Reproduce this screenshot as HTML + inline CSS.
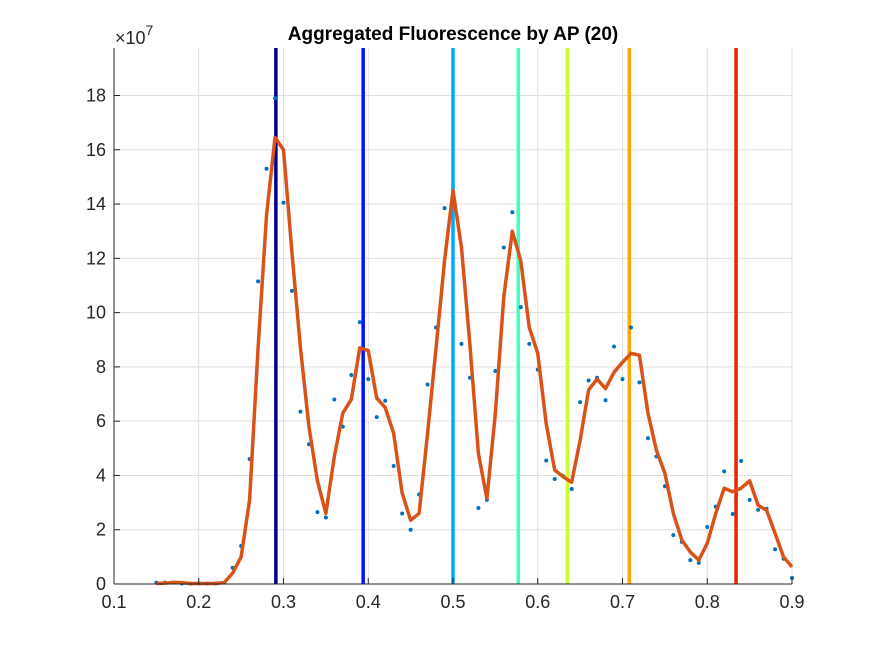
<!DOCTYPE html>
<html><head><meta charset="utf-8"><style>
body{margin:0;background:#fff;}
svg{display:block;font-family:"Liberation Sans",Arial,sans-serif;}
</style></head><body>
<svg id="chart" width="875" height="656">
<rect x="0" y="0" width="875" height="656" fill="#fff"/>
<g id="grid"></g>
<g id="vlines"></g>
<g id="dots"></g>
<g id="curve"></g>
<g id="axes"></g>
<text x="453" y="40" text-anchor="middle" font-size="19" font-weight="bold" fill="#000">Aggregated Fluorescence by AP (20)</text>
<text x="115" y="44" font-size="18" fill="#262626">×10<tspan dy="-9" font-size="14">7</tspan></text>
</svg>
<script>
const xTicks=[0.1,0.2,0.3,0.4,0.5,0.6,0.7,0.8,0.9];
const xTickLabels=["0.1","0.2","0.3","0.4","0.5","0.6","0.7","0.8","0.9"];
const yTicks=[0,2,4,6,8,10,12,14,16,18];
const yTickLabels=["0","2","4","6","8","10","12","14","16","18"];
const pointX=[0.15,0.16,0.17,0.18,0.19,0.20,0.21,0.22,0.23,0.24,0.25,0.26,0.27,0.28,0.29,0.30,0.31,0.32,0.33,0.34,0.35,0.36,0.37,0.38,0.39,0.40,0.41,0.42,0.43,0.44,0.45,0.46,0.47,0.48,0.49,0.50,0.51,0.52,0.53,0.54,0.55,0.56,0.57,0.58,0.59,0.60,0.61,0.62,0.63,0.64,0.65,0.66,0.67,0.68,0.69,0.70,0.71,0.72,0.73,0.74,0.75,0.76,0.77,0.78,0.79,0.80,0.81,0.82,0.83,0.84,0.85,0.86,0.87,0.88,0.89,0.90];
const pointY=[0.05,0.05,0.05,0.02,0.02,0.02,0.02,0.02,0.05,0.6,1.4,4.6,11.15,15.3,17.9,14.05,10.8,6.35,5.15,2.65,2.45,6.8,5.8,7.7,9.65,7.55,6.15,6.75,4.35,2.6,2.0,3.3,7.35,9.45,13.85,14.3,8.85,7.6,2.8,3.1,7.85,12.4,13.7,10.2,8.85,7.9,4.55,3.87,3.97,3.5,6.7,7.5,7.6,6.77,8.75,7.55,9.45,7.43,5.37,4.7,3.6,1.8,1.55,0.88,0.78,2.1,2.85,4.15,2.58,4.53,3.1,2.73,2.77,1.28,0.93,0.22];
const smoothY=[0.02,0.03,0.06,0.05,0.02,0.02,0.02,0.02,0.05,0.4,1.0,3.1,8.7,13.6,16.45,16.0,12.2,8.7,5.8,3.8,2.6,4.7,6.3,6.8,8.7,8.6,6.85,6.5,5.55,3.35,2.35,2.6,5.55,8.7,11.9,14.5,12.4,8.8,4.8,3.15,6.3,10.6,13.0,11.9,9.45,8.5,5.9,4.2,3.95,3.75,5.3,7.15,7.55,7.2,7.8,8.17,8.5,8.43,6.3,4.93,4.08,2.6,1.62,1.18,0.88,1.5,2.6,3.53,3.4,3.53,3.8,2.9,2.72,1.87,1.0,0.63];
const apX=[0.291,0.394,0.500,0.577,0.635,0.708,0.834];
const apColors=["#000090","#0010ff","#00a8ff","#40ffc0","#c8ff30","#ffa800","#f02000"];
const L=114,R=792,T=48,B=584,XMIN=0.1,XMAX=0.9,YMIN=0,YMAX=19.75;
const sx=v=>L+(v-XMIN)/(XMAX-XMIN)*(R-L);
const sy=v=>B-(v-YMIN)/(YMAX-YMIN)*(B-T);
const NS="http://www.w3.org/2000/svg";
function mk(tag,parent,attrs){const e=document.createElementNS(NS,tag);for(const k in attrs)e.setAttribute(k,attrs[k]);document.getElementById(parent).appendChild(e);return e;}
xTicks.forEach((t,i)=>{
  const g=mk("line","grid",{x1:sx(t),x2:sx(t),y1:T,y2:B,stroke:"#dfdfdf","stroke-width":1});
  
  
  const tk=mk("line","axes",{x1:sx(t),x2:sx(t),y1:B,y2:B-6,stroke:"#262626","stroke-width":1});
  
  
  const lb=mk("text","axes",{x:sx(t),y:B+24,"text-anchor":"middle","font-size":"18",fill:"#262626"});
  lb.textContent=xTickLabels[i];
  
  
});
yTicks.forEach((t,i)=>{
  const g=mk("line","grid",{x1:L,x2:R,y1:sy(t),y2:sy(t),stroke:"#dfdfdf","stroke-width":1});
  
  
  const tk=mk("line","axes",{x1:L,x2:L+6,y1:sy(t),y2:sy(t),stroke:"#262626","stroke-width":1});
  
  
  const lb=mk("text","axes",{x:L-8,y:sy(t)+6,"text-anchor":"end","font-size":"18",fill:"#262626"});
  lb.textContent=yTickLabels[i];
  
  
});
const ax1=mk("line","axes",{x1:L,x2:L,y1:T,y2:B,stroke:"#262626","stroke-width":1});


const ax2=mk("line","axes",{x1:L,x2:R,y1:B,y2:B,stroke:"#262626","stroke-width":1});


apX.forEach((v,i)=>{
  const l=mk("line","vlines",{x1:sx(v),x2:sx(v),y1:T,y2:B,stroke:apColors[i],"stroke-width":3.5});
  
  
});
pointX.forEach((v,i)=>{
  const c=mk("circle","dots",{cx:sx(v),cy:sy(pointY[i]),r:2,fill:"#0072bd"});
  
  
});
const p=mk("polyline","curve",{points:pointX.map((v,i)=>sx(v)+","+sy(smoothY[i])).join(" "),fill:"none",stroke:"#d95319","stroke-width":3.5,"stroke-linejoin":"round"});


</script>
</body></html>
